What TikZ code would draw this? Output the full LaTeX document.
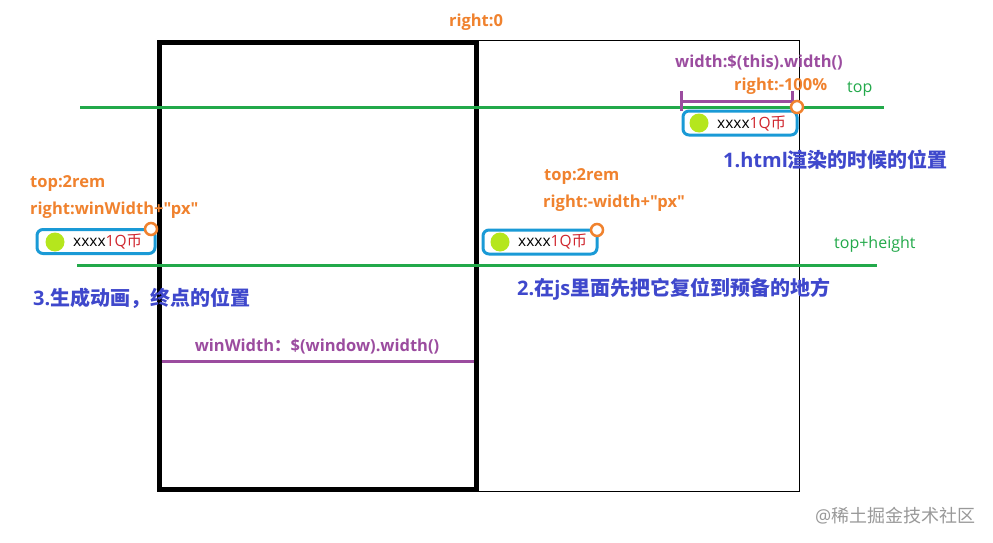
\documentclass[tikz,border=0pt]{standalone}
\usepackage{fontspec}
\setmainfont{Open Sans}[Ligatures=TeXOff]
\newfontfamily\cjk{Noto Sans CJK SC}
\definecolor{orT}{HTML}{F0822E}
\definecolor{puL}{HTML}{9B4C9F}
\definecolor{grL}{HTML}{22A94A}
\definecolor{blB}{HTML}{1A9AD6}
\definecolor{blT}{HTML}{3F48CC}
\definecolor{dotG}{HTML}{B5E61D}
\definecolor{redT}{HTML}{D0262E}
\tikzset{
  orlabel/.style={text=orT, font=\bfseries\fontsize{16.5}{18}\selectfont, inner sep=0pt, anchor=west},
  pulabel/.style={text=puL, font=\bfseries\fontsize{16.5}{18}\selectfont, inner sep=0pt},
  grlabel/.style={text=grL, font=\fontsize{16}{18}\selectfont, inner sep=0pt, anchor=west},
  bllabel/.style={text=blT, font=\bfseries\fontsize{20}{22}\selectfont, inner sep=0pt, anchor=west},
  itembox/.style={draw=blB, line width=3pt, rounded corners=6pt, minimum width=114pt, minimum height=24pt, inner sep=0pt},
  gdot/.style={circle, fill=dotG, minimum size=19pt, inner sep=0pt},
  ocirc/.style={circle, draw=orT, fill=white, line width=2.5pt, minimum size=12pt, inner sep=0pt},
  itemtext/.style={font=\fontsize{15.5}{17}\selectfont, inner sep=0pt, anchor=west},
  gline/.style={grL, line width=3pt},
  pline/.style={puL, line width=3pt},
}
\newcommand{\itemtxt}{xxxx\textcolor{redT}{1Q{\cjk 币}}}
\begin{document}
\begin{tikzpicture}[x=1pt,y=-1pt]
\useasboundingbox (0,0) rectangle (993,543);
\fill[white] (0,0) rectangle (993,543);
% window rectangles
\draw[line width=1pt] (476,41) rectangle (799,491);
\draw[line width=5pt] (159.5,43) rectangle (476,489.5);
\node[orlabel, anchor=center] (r0) at (476,22) {right:0};
% green lines
\coordinate (t1) at (80,107); \coordinate (t2) at (884,107);
\draw[gline] (t1) -- (t2);
\node[grlabel] (toplbl) at (847,89) {top};
\coordinate (b1) at (77,265); \coordinate (b2) at (877,265);
\draw[gline] (b1) -- (b2);
\node[grlabel] (tophl) at (834,244) {top+height};
% item 1
\node[itembox] (box1) at (740,123) {};
\node[gdot] (d1) at (699,123) {};
\node[itemtext] (x1) at (717,124) {\itemtxt};
\coordinate (w1) at (681,101); \coordinate (w2) at (792,101);
\draw[pline] (w1) -- (w2);
\draw[pline] ([yshift=-10]w1) -- ([yshift=10]w1);
\draw[pline] ([yshift=-10]w2) -- ([yshift=10]w2);
\node[ocirc] (c1) at (797,107) {};
\node[pulabel] (wl) at (759,63) {width:\$(this).width()};
\node[orlabel] (rl) at (734,86) {right:-100\%};
\node[bllabel] (n1) at (723,160) {1.html{\cjk 渲染的时候的位置}};
% item 3 (left)
\node[orlabel] (t3) at (30,184) {top:2rem};
\node[orlabel] (r3) at (30,210) {right:winWidth+"px"};
\node[itembox, minimum width=118pt] (box3) at (96,241.5) {};
\node[gdot] (d3) at (55,242) {};
\node[itemtext] (x3) at (73,242) {\itemtxt};
\node[ocirc] (c3) at (151,229) {};
\node[bllabel] (n3) at (33,298) {3.{\cjk 生成动画，终点的位置}};
% item 2 (middle)
\node[orlabel] (t2l) at (544,177) {top:2rem};
\node[orlabel] (r2) at (543,203) {right:-width+"px"};
\node[itembox] (box2) at (540,242) {};
\node[gdot] (d2) at (500,242) {};
\node[itemtext] (x2) at (518,242) {\itemtxt};
\node[ocirc] (c2) at (597,230) {};
\node[bllabel] (n2) at (517,289) {2.{\cjk 在}js{\cjk 里面先把它复位到预备的地方}};
% winWidth line
\coordinate (p1) at (162,361); \coordinate (p2) at (474,361);
\draw[pline] (p1) -- (p2);
\node[pulabel] (wwl) at (317,347) {winWidth{\cjk ：}\$(window).width()};
% watermark
\node[text=black!40, font=\fontsize{18}{20}\selectfont, inner sep=0pt, anchor=west] (wm) at (815,516) {@{\cjk 稀土掘金技术社区}};
\end{tikzpicture}
\end{document}
